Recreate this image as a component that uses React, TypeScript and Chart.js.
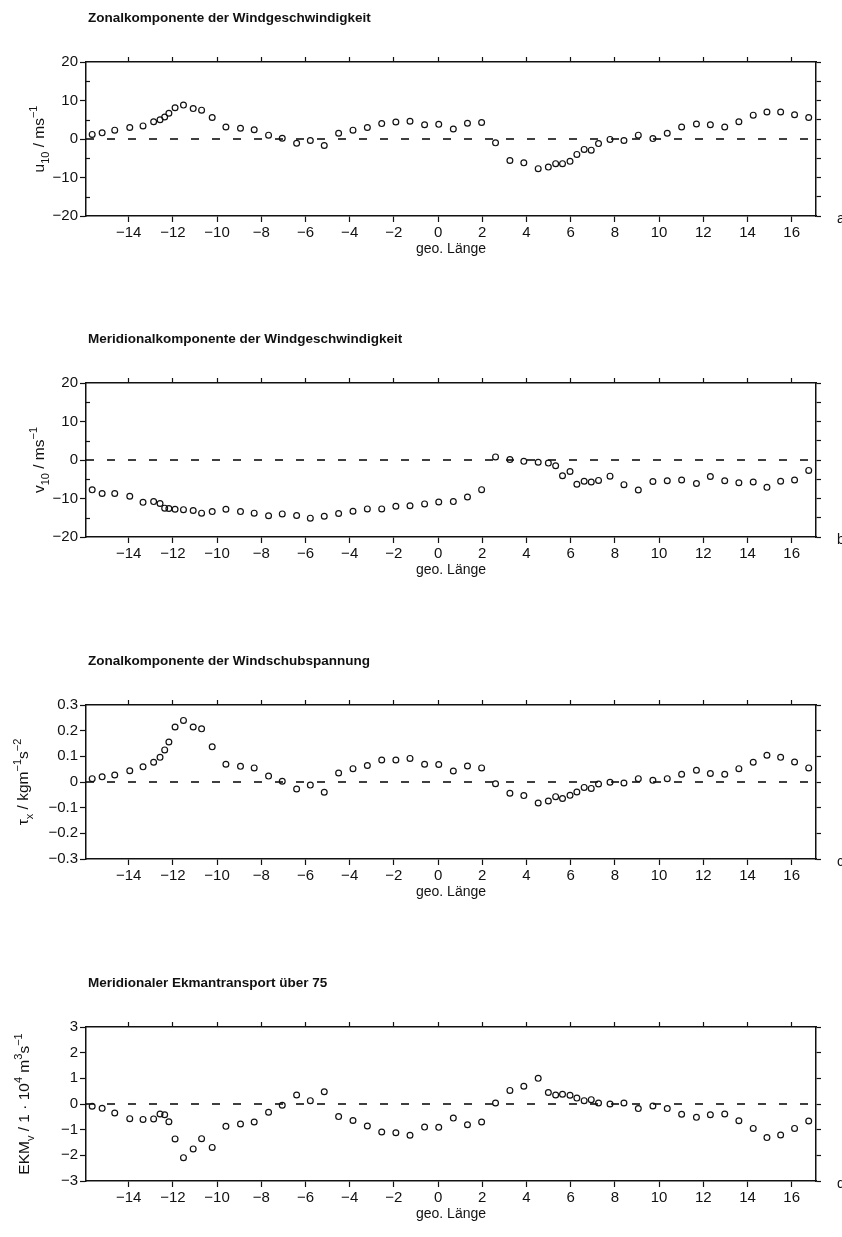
import React, { useEffect, useRef } from 'react';
import { Chart, registerables } from 'chart.js';

Chart.register(...registerables);

// ---------- data ----------
const longitudes = [
  -15.65, -15.2, -14.63, -13.95, -13.35, -12.87, -12.58, -12.37, -12.18, -11.9,
  -11.52, -11.08, -10.7, -10.22, -9.6, -8.94, -8.32, -7.67, -7.05, -6.4,
  -5.78, -5.15, -4.5, -3.85, -3.2, -2.55, -1.91, -1.27, -0.61, 0.03,
  0.69, 1.33, 1.97, 2.6, 3.25, 3.88, 4.53, 4.99, 5.32, 5.63,
  5.97, 6.28, 6.61, 6.93, 7.26, 7.78, 8.41, 9.06, 9.72, 10.37,
  11.02, 11.69, 12.32, 12.97, 13.61, 14.26, 14.88, 15.5, 16.13, 16.77,
];

const u10 = [
  1.2, 1.6, 2.3, 3.0, 3.4, 4.5, 5.0, 5.7, 6.7, 8.1,
  8.8, 7.9, 7.5, 5.6, 3.1, 2.8, 2.4, 1.0, 0.2, -1.1,
  -0.4, -1.7, 1.5, 2.3, 3.0, 4.0, 4.4, 4.6, 3.7, 3.8,
  2.6, 4.1, 4.3, -1.0, -5.6, -6.2, -7.7, -7.3, -6.4, -6.4,
  -5.8, -4.0, -2.7, -2.9, -1.2, -0.1, -0.4, 1.0, 0.1, 1.5,
  3.1, 3.9, 3.7, 3.1, 4.5, 6.2, 7.0, 7.0, 6.3, 5.6,
];

const v10 = [
  -7.75, -8.7, -8.7, -9.4, -11.0, -10.8, -11.3, -12.5, -12.6, -12.8,
  -12.9, -13.1, -13.8, -13.4, -12.8, -13.4, -13.8, -14.5, -14.0, -14.4,
  -15.1, -14.6, -13.9, -13.3, -12.7, -12.7, -12.0, -11.9, -11.4, -10.9,
  -10.8, -9.6, -7.7, 0.8, 0.1, -0.35, -0.6, -0.8, -1.5, -4.1,
  -3.0, -6.3, -5.5, -5.7, -5.3, -4.2, -6.4, -7.8, -5.6, -5.4,
  -5.2, -6.1, -4.3, -5.4, -5.9, -5.7, -7.1, -5.5, -5.2, -2.7,
];

const tauX = [
  0.013, 0.02, 0.027, 0.044, 0.059, 0.077, 0.096, 0.125, 0.156, 0.214,
  0.24, 0.214, 0.207, 0.137, 0.069, 0.061, 0.055, 0.023, 0.003, -0.027,
  -0.012, -0.04, 0.035, 0.052, 0.064, 0.086, 0.086, 0.092, 0.069, 0.068,
  0.043, 0.0625, 0.055, -0.007, -0.044, -0.053, -0.082, -0.074, -0.057, -0.064,
  -0.052, -0.039, -0.021, -0.025, -0.008, -0.001, -0.004, 0.013, 0.0065, 0.013,
  0.03, 0.046, 0.033, 0.03, 0.052, 0.077, 0.104, 0.096, 0.078, 0.055,
];

const ekmV = [
  -0.09, -0.17, -0.35, -0.57, -0.6, -0.58, -0.39, -0.42, -0.69, -1.36,
  -2.09, -1.75, -1.35, -1.69, -0.87, -0.78, -0.7, -0.32, -0.05, 0.35,
  0.13, 0.48, -0.49, -0.64, -0.86, -1.09, -1.12, -1.22, -0.9, -0.91,
  -0.55, -0.81, -0.7, 0.04, 0.53, 0.69, 1.0, 0.45, 0.35, 0.38,
  0.34, 0.23, 0.13, 0.17, 0.04, 0.0, 0.04, -0.18, -0.08, -0.18,
  -0.4, -0.52, -0.42, -0.39, -0.65, -0.95, -1.31, -1.21, -0.95, -0.66,
];

const panelTitles = [
  'Zonalkomponente der Windgeschwindigkeit',
  'Meridionalkomponente der Windgeschwindigkeit',
  'Zonalkomponente der Windschubspannung',
  'Meridionaler Ekmantransport über 75',
];
const panelLetters = ['a', 'b', 'c', 'd'];
const xAxisTitle = 'geo. Länge';

const xMin = -15.93;
const xMax = 17.1;
const xTickStep = 2;

const windMinorTicks = [-15, -5, 5, 15];

type Seg = { t: string; k?: 'sub' | 'sup' };

const yTitles: Seg[][] = [
  [{ t: 'u' }, { t: '10', k: 'sub' }, { t: ' / ms' }, { t: '−1', k: 'sup' }],
  [{ t: 'v' }, { t: '10', k: 'sub' }, { t: ' / ms' }, { t: '−1', k: 'sup' }],
  [{ t: 'τ' }, { t: 'x', k: 'sub' }, { t: ' / kgm' }, { t: '−1', k: 'sup' }, { t: 's' }, { t: '−2', k: 'sup' }],
  [{ t: 'EKM' }, { t: 'v', k: 'sub' }, { t: ' / 1 · 10' }, { t: '4', k: 'sup' }, { t: ' m' }, { t: '3', k: 'sup' }, { t: 's' }, { t: '−1', k: 'sup' }],
];

const minus = (s: string) => s.replace('-', '−');
const fmtInt = (v: number) => minus(String(Math.round(v)));
const fmtDec = (v: number) => (Math.abs(v) < 1e-9 ? '0' : minus(v.toFixed(1)));

type Panel = {
  title: string;
  letter: string;
  values: number[];
  yMin: number;
  yMax: number;
  yStep: number;
  yRightStep: number;
  yMinor: number[];
  fmt: (v: number) => string;
  yTitle: Seg[];
  yTitleX: number;
};

const panels: Panel[] = [
  { title: panelTitles[0], letter: panelLetters[0], values: u10, yMin: -20, yMax: 20, yStep: 10, yRightStep: 5, yMinor: windMinorTicks, fmt: fmtInt, yTitle: yTitles[0], yTitleX: 44 },
  { title: panelTitles[1], letter: panelLetters[1], values: v10, yMin: -20, yMax: 20, yStep: 10, yRightStep: 5, yMinor: windMinorTicks, fmt: fmtInt, yTitle: yTitles[1], yTitleX: 44 },
  { title: panelTitles[2], letter: panelLetters[2], values: tauX, yMin: -0.3, yMax: 0.3, yStep: 0.1, yRightStep: 0.1, yMinor: [], fmt: fmtDec, yTitle: yTitles[2], yTitleX: 28 },
  { title: panelTitles[3], letter: panelLetters[3], values: ekmV, yMin: -3, yMax: 3, yStep: 1, yRightStep: 1, yMinor: [], fmt: fmtInt, yTitle: yTitles[3], yTitleX: 29 },
];

// ---------- layout ----------
const W = 842;
const H = 321;
const panelTops = [0, 321, 643, 965];
const plotLeft = 86;
const plotRight = 816;
const plotTop = 62;
const plotBottom = 216;
const INK = '#111';
const FONT = '"Liberation Sans", Arial, Helvetica, sans-serif';

function drawRich(ctx: CanvasRenderingContext2D, segs: Seg[], x: number, y: number, size: number) {
  ctx.save();
  ctx.translate(x, y);
  ctx.rotate(-Math.PI / 2);
  const small = Math.round(size * 0.72);
  const fontFor = (s: Seg) => `${s.k ? small : size}px ${FONT}`;
  let total = 0;
  segs.forEach((s) => {
    ctx.font = fontFor(s);
    total += ctx.measureText(s.t).width;
  });
  let cx = -total / 2;
  ctx.textAlign = 'left';
  ctx.textBaseline = 'alphabetic';
  segs.forEach((s) => {
    ctx.font = fontFor(s);
    const dy = s.k === 'sub' ? size * 0.32 : s.k === 'sup' ? -size * 0.42 : 0;
    ctx.fillText(s.t, cx, dy);
    cx += ctx.measureText(s.t).width;
  });
  ctx.restore();
}

function makeTextPlugin(p: Panel) {
  return {
    id: 'panelText',
    afterDraw(chart: any) {
      const { ctx, chartArea } = chart;
      ctx.save();
      ctx.fillStyle = INK;
      ctx.strokeStyle = INK;
      ctx.lineWidth = 1.2;
      // title
      ctx.font = `bold 13.5px ${FONT}`;
      ctx.textAlign = 'left';
      ctx.textBaseline = 'middle';
      ctx.fillText(p.title, chartArea.left + 2, chartArea.top - 44);
      // x axis title
      ctx.font = `14px ${FONT}`;
      ctx.textAlign = 'center';
      ctx.fillText(xAxisTitle, (chartArea.left + chartArea.right) / 2, chartArea.bottom + 33);
      // panel letter
      ctx.textAlign = 'left';
      ctx.fillText(p.letter, chartArea.right + 21, chartArea.bottom + 3);
      // y title
      drawRich(ctx, p.yTitle, p.yTitleX, (chartArea.top + chartArea.bottom) / 2, 15.5);
      // minor inner ticks on left axis
      const ys = chart.scales.y;
      p.yMinor.forEach((v) => {
        const py = Math.round(ys.getPixelForValue(v)) + 0.5;
        ctx.beginPath();
        ctx.moveTo(chartArea.left, py);
        ctx.lineTo(chartArea.left + 4, py);
        ctx.stroke();
      });
      ctx.restore();
    },
  };
}

function PanelChart({ p, top }: { p: Panel; top: number }) {
  const ref = useRef<HTMLCanvasElement | null>(null);
  useEffect(() => {
    if (!ref.current) return;
    const zeroLine = [
      { x: xMin, y: 0 },
      { x: xMax, y: 0 },
    ];
    const tickFont = { family: FONT, size: 15 };
    const grid = { display: true, drawOnChartArea: false, drawTicks: true, tickLength: 6, color: INK, tickWidth: 1.2 };
    const border = { display: true, color: INK, width: 1.5 };
    const chart = new Chart(ref.current, {
      type: 'scatter',
      data: {
        datasets: [
          {
            type: 'line',
            data: zeroLine,
            borderColor: '#000',
            borderWidth: 1.6,
            borderDash: [8, 13],
            pointRadius: 0,
            fill: false,
            order: 2,
          } as any,
          {
            data: longitudes.map((x, i) => ({ x, y: p.values[i] })),
            pointRadius: 2.9,
            pointBorderWidth: 1.2,
            borderColor: INK,
            backgroundColor: 'rgba(0,0,0,0)',
            pointStyle: 'circle',
            showLine: false,
            order: 1,
          },
        ],
      },
      options: {
        animation: false,
        responsive: false,
        maintainAspectRatio: false,
        devicePixelRatio: 1,
        events: [],
        layout: { padding: 0 },
        plugins: { legend: { display: false }, tooltip: { enabled: false }, title: { display: false } },
        scales: {
          x: {
            type: 'linear',
            position: 'bottom',
            min: xMin,
            max: xMax,
            ticks: { stepSize: xTickStep, includeBounds: false, autoSkip: false, maxRotation: 0, color: INK, font: tickFont, padding: 2, callback: (v: any) => fmtInt(Number(v)) },
            grid,
            border,
            afterFit: (s: any) => { s.height = H - plotBottom; },
          },
          xt: {
            type: 'linear',
            position: 'top',
            min: xMin,
            max: xMax,
            ticks: { display: false, stepSize: xTickStep, includeBounds: false },
            grid: { ...grid, tickLength: 5 },
            border,
            afterFit: (s: any) => { s.height = plotTop; },
          },
          y: {
            type: 'linear',
            position: 'left',
            min: p.yMin,
            max: p.yMax,
            ticks: { stepSize: p.yStep, includeBounds: false, color: INK, font: tickFont, padding: 2, callback: (v: any) => p.fmt(Number(v)) },
            grid,
            border,
            afterFit: (s: any) => { s.width = plotLeft; },
          },
          yr: {
            type: 'linear',
            position: 'right',
            min: p.yMin,
            max: p.yMax,
            ticks: { display: false, stepSize: p.yRightStep, includeBounds: false },
            grid: { ...grid, tickLength: 5 },
            border,
            afterFit: (s: any) => { s.width = W - plotRight; },
          },
        },
      } as any,
      plugins: [makeTextPlugin(p)],
    });
    return () => chart.destroy();
  }, [p]);
  return (
    <canvas
      ref={ref}
      width={W}
      height={H}
      style={{ position: 'absolute', left: 0, top, width: W, height: H }}
    />
  );
}

export default function App() {
  return (
    <div style={{ position: 'absolute', left: 0, top: 0, width: W, height: 1237, background: '#fff', overflow: 'hidden' }}>
      {panels.map((p, i) => (
        <PanelChart key={i} p={p} top={panelTops[i]} />
      ))}
    </div>
  );
}
